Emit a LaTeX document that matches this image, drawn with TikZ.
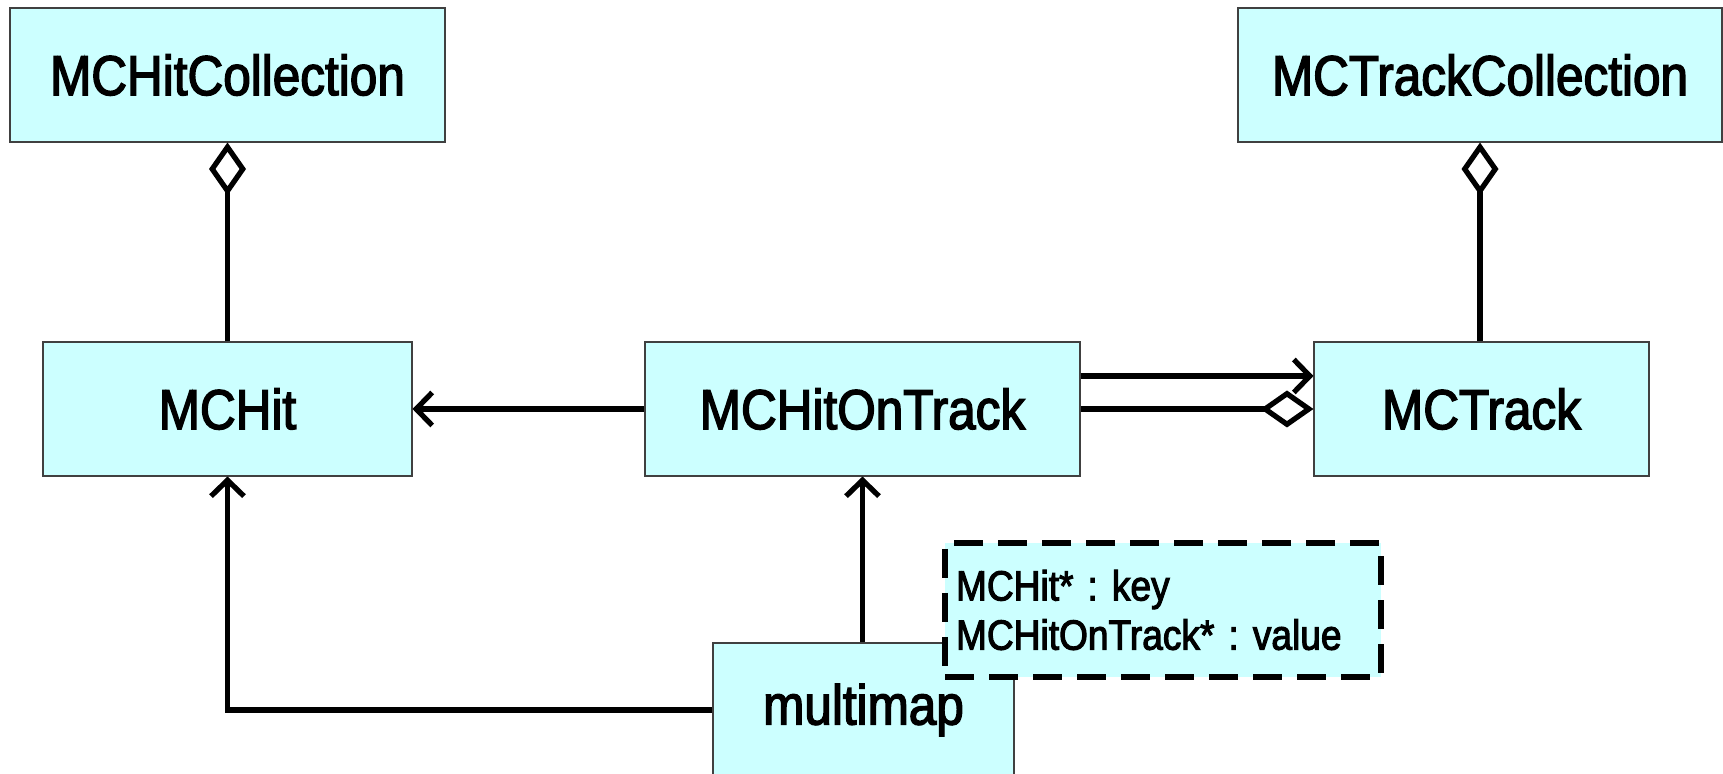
\documentclass[tikz,border=0pt]{standalone}
\usepackage{fontspec}
\setmainfont[FakeStretch=0.88, FakeBold=2.5]{Liberation Sans}
\usepackage{xcolor}
\usetikzlibrary{arrows.meta}
\usetikzlibrary{positioning,calc}
\frenchspacing

\definecolor{boxfill}{HTML}{CCFFFF}
\tikzset{
  cls/.style={draw=black!75, line width=0.6pt, fill=boxfill, minimum height=2.68cm,
    inner sep=0pt, font=\fontsize{32}{38}\selectfont},
  note/.style={draw, line width=3pt, dash pattern=on 0.58cm off 0.3cm, fill=boxfill,
    minimum height=2.68cm, text width=8.28cm, inner sep=0.22cm, align=left,
    font=\fontsize{24}{28}\selectfont},
  link/.style={line width=3pt},
  uses/.style={link, -{Straight Barb[length=0.32cm, width=0.66cm]}},
  owns/.style={link, -{Diamond[open, length=1.06cm, width=0.74cm]}}
}

\begin{document}
\begin{tikzpicture}
  \clip (0,0) rectangle (34.46,15.48);
  \node[cls, minimum width=8.70cm] (HC) at (4.55,13.98) {MCHitCollection};
  \node[cls, minimum width=9.68cm] (TC) at (29.60,13.98) {MCTrackCollection};
  \node[cls, minimum width=7.38cm] (H) at (4.55,7.30) {MCHit};
  \node[cls, minimum width=8.70cm] (HOT) at (17.25,7.30) {MCHitOnTrack};
  \node[cls, minimum width=6.70cm] (T) at (29.63,7.30) {MCTrack};
  \node[cls, minimum width=6.02cm] (MM) at (17.27,1.28) {multimap};
  \node[note] (NB) at (23.26,3.28) {MCHit* : key\\MCHitOnTrack* : value};

  \draw[owns] (H.north) -- (HC.south);
   \draw[owns] (T.north -| TC.south) -- (TC.south);
    \draw[uses] (HOT.west) -- (H.east);
     \draw[uses] ([yshift=0.66cm]HOT.east) -- ([yshift=0.66cm]T.west);
     \draw[owns] (HOT.east) -- (T.west);
     \draw[uses] (MM.north -| HOT.south) -- (HOT.south);
     \draw[uses] (MM.west) -| (H.south);
 \end{tikzpicture}
\end{document}
